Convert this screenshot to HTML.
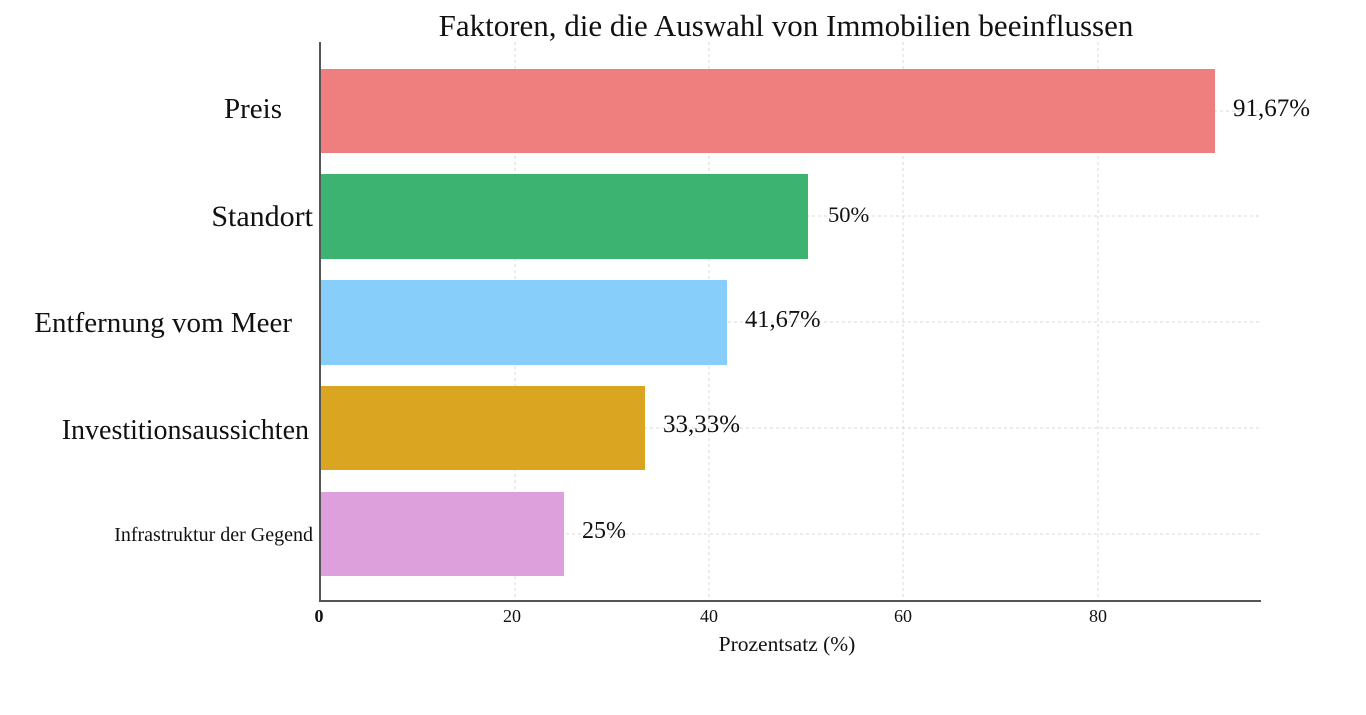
<!DOCTYPE html>
<html><head><meta charset="utf-8"><style>
html,body{margin:0;padding:0;background:#fff;width:1366px;height:715px;overflow:hidden}
text{font-family:"Liberation Serif",serif;fill:#111}
</style></head><body>
<svg width="1366" height="715" xmlns="http://www.w3.org/2000/svg">
<g stroke="#d8d8d8" stroke-width="1" stroke-dasharray="3,3">
<line x1="515" y1="42" x2="515" y2="601"/>
<line x1="709" y1="42" x2="709" y2="601"/>
<line x1="903" y1="42" x2="903" y2="601"/>
<line x1="1098" y1="42" x2="1098" y2="601"/>
<line x1="320" y1="111" x2="1260" y2="111"/>
<line x1="320" y1="216" x2="1260" y2="216"/>
<line x1="320" y1="322" x2="1260" y2="322"/>
<line x1="320" y1="428" x2="1260" y2="428"/>
<line x1="320" y1="534" x2="1260" y2="534"/>
</g>
<rect x="321" y="69" width="894" height="84" fill="#ef7f7f"/>
<rect x="321" y="174" width="487" height="85" fill="#3cb371"/>
<rect x="321" y="280" width="406" height="85" fill="#87cefa"/>
<rect x="321" y="386" width="324" height="84" fill="#daa520"/>
<rect x="321" y="492" width="243" height="84" fill="#dda0dd"/>
<line x1="320" y1="42" x2="320" y2="602" stroke="#555" stroke-width="2"/>
<line x1="319" y1="601" x2="1261" y2="601" stroke="#555" stroke-width="2"/>
<text x="786" y="36" font-size="31" text-anchor="middle">Faktoren, die die Auswahl von Immobilien beeinflussen</text>
<text x="282" y="118" font-size="29" text-anchor="end">Preis</text>
<text x="313" y="226" font-size="30" text-anchor="end">Standort</text>
<text x="292" y="332" font-size="29" text-anchor="end">Entfernung vom Meer</text>
<text x="309" y="439" font-size="28" text-anchor="end">Investitionsaussichten</text>
<text x="313" y="541" font-size="20" text-anchor="end">Infrastruktur der Gegend</text>
<text x="1233" y="116" font-size="25">91,67%</text>
<text x="828" y="222" font-size="22.5">50%</text>
<text x="745" y="327" font-size="24.5">41,67%</text>
<text x="663" y="432" font-size="25">33,33%</text>
<text x="582" y="538" font-size="24">25%</text>
<g font-size="18" text-anchor="middle">
<text x="319" y="622" font-weight="bold">0</text>
<text x="512" y="622">20</text>
<text x="709" y="622">40</text>
<text x="903" y="622">60</text>
<text x="1098" y="622">80</text>
</g>
<text x="787" y="651" font-size="21.5" text-anchor="middle">Prozentsatz (%)</text>
</svg>
</body></html>
